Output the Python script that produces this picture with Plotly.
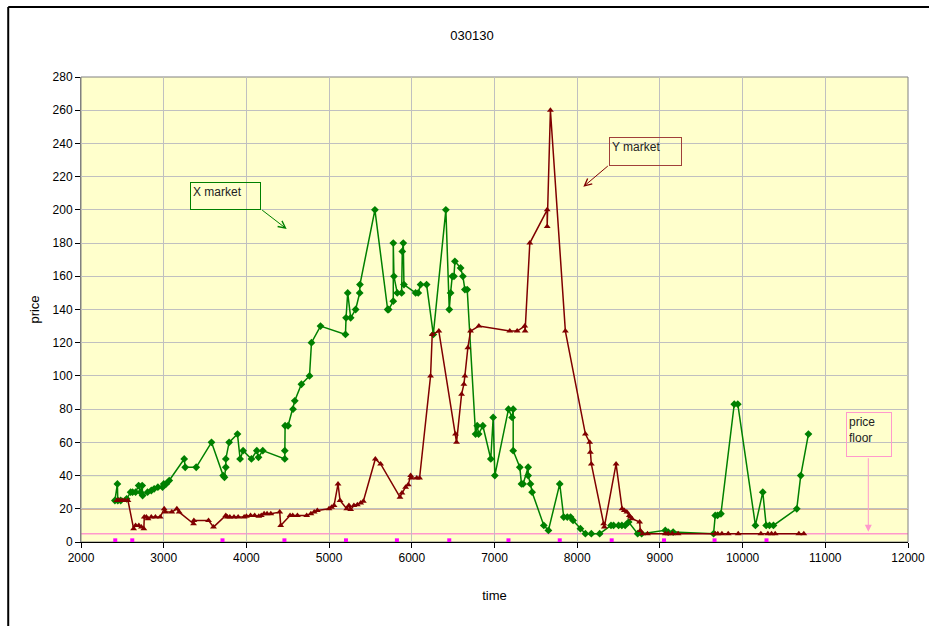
"""
Price of the X and Y markets over time, session 030130.
"""
import plotly.graph_objects as go

# X market (green diamonds)
x_time = [2410, 2440, 2445, 2480, 2552, 2600, 2624, 2660, 2697, 2720, 2740, 2745,
          2805, 2850, 2885, 2930, 2986, 3000, 3030, 3067, 3248, 3260, 3393, 3578,
          3719, 3735, 3751, 3751, 3791, 3892, 3924, 3960, 4061, 4126, 4146, 4198,
          4464, 4464, 4468, 4504, 4564, 4585, 4665, 4763, 4787, 4896, 5198, 5205,
          5225, 5261, 5321, 5370, 5373, 5554, 5708, 5720, 5776, 5776, 5784, 5824,
          5877, 5885, 5897, 5905, 6046, 6078, 6106, 6179, 6260, 6412, 6453, 6469,
          6489, 6510, 6521, 6590, 6618, 6642, 6670, 6771, 6791, 6808, 6859, 6955,
          6984, 7004, 7169, 7213, 7226, 7226, 7306, 7326, 7346, 7407, 7407, 7435,
          7455, 7596, 7652, 7789, 7837, 7880, 7920, 7950, 8039, 8099, 8171, 8272,
          8409, 8440, 8500, 8540, 8580, 8622, 8731, 8779, 9065, 9100, 9160, 9649,
          9669, 9697, 9738, 9899, 9942, 10155, 10244, 10285, 10325, 10373, 10655,
          10703, 10796]
x_price = [25, 35, 25, 25, 26, 30, 30, 30, 34, 30, 34, 28,
           30, 31, 32, 33, 33, 35, 35, 37, 50, 45, 45, 60,
           40, 39, 45, 50, 60, 65, 50, 55, 50, 55, 51, 55,
           50, 55, 70, 70, 80, 85, 95, 100, 120, 130, 125, 135,
           150, 135, 140, 150, 155, 200, 140, 140, 145, 180, 160, 150,
           150, 175, 180, 155, 150, 150, 155, 155, 125, 200, 140, 150,
           160, 160, 169, 165, 160, 152, 152, 65, 70, 65, 70, 50,
           75, 40, 80, 75, 80, 55, 45, 35, 35, 45, 40, 35,
           30, 10, 7, 35, 15, 15, 15, 13, 8, 5, 5, 5,
           10, 10, 10, 10, 10, 12, 5, 5, 7, 6, 6, 5,
           16, 16, 17, 83, 83, 10, 30, 10, 10, 10, 20,
           40, 65]

# Y market (dark red triangles)
y_time = [2435, 2450, 2470, 2500, 2530, 2568, 2636, 2660, 2700, 2730, 2760, 2765,
          2790, 2810, 2850, 2900, 2958, 3006, 3020, 3098, 3159, 3187, 3361, 3365,
          3542, 3602, 3751, 3770, 3800, 3850, 3900, 3973, 4000, 4050, 4100, 4150,
          4180, 4214, 4250, 4295, 4403, 4415, 4528, 4560, 4617, 4729, 4780, 4820,
          4858, 4999, 5030, 5060, 5108, 5132, 5213, 5240, 5261, 5300, 5342, 5382,
          5414, 5559, 5623, 5857, 5881, 5925, 5957, 5986, 5990, 6060, 6094, 6227,
          6247, 6327, 6529, 6541, 6602, 6630, 6642, 6678, 6710, 6811, 7185, 7274,
          7366, 7370, 7427, 7637, 7637, 7676, 7857, 8099, 8151, 8159, 8171, 8320,
          8328, 8470, 8543, 8570, 8600, 8630, 8643, 8663, 8755, 8763, 8791, 8850,
          9065, 9100, 9150, 9220, 9669, 9700, 9750, 9826, 9947, 10221, 10306, 10350,
          10394, 10680, 10740]
y_price = [25, 25, 25, 25, 25, 25, 8, 10, 10, 9, 8, 15,
           15, 14, 15, 15, 15, 20, 18, 18, 20, 18, 11, 13,
           13, 9, 16, 15, 15, 15, 15, 15, 15.5, 16, 16, 15.5,
           16, 17, 17, 17, 18, 10, 16, 16, 16, 16, 17, 18,
           19, 20, 21, 22, 35, 25, 20, 22, 19.5, 22, 22.5, 23.5,
           24.5, 50, 47, 27, 29.5, 33, 34.5, 40, 38.5, 38.5, 38.5, 100,
           125, 127, 65, 60, 89, 95, 100, 117, 127, 130, 127, 127,
           130, 127, 180, 200, 190, 260, 127, 65, 60, 54, 47, 11,
           9, 47, 20, 19, 18, 16, 15, 14, 12, 7, 5, 5,
           5, 5, 5, 5, 5, 5, 5, 5, 5, 5, 5, 5,
           5, 5, 5]

# small magenta markers along the bottom
tick_time = [2414, 2620, 3711, 4460, 5204, 5820, 6453, 7169, 7789, 8417, 9050,
             9661, 10289]
tick_price = [1] * len(tick_time)

x_level = 40
y_level = 20
price_floor = 5

FONT = "Liberation Sans, Arial, sans-serif"

fig = go.Figure()

fig.add_hline(y=x_level, line=dict(color='#008000', width=1), layer='below')
fig.add_hline(y=y_level, line=dict(color='#800000', width=1), layer='below')
fig.add_hline(y=price_floor, line=dict(color='#FF99CC', width=1.5), layer='below')

fig.add_trace(go.Scatter(
    x=x_time, y=x_price, mode='lines+markers', name='X market',
    line=dict(color='#008000', width=1.5),
    marker=dict(symbol='diamond', size=6, color='#008000'),
))
fig.add_trace(go.Scatter(
    x=y_time, y=y_price, mode='lines+markers', name='Y market',
    line=dict(color='#800000', width=1.5),
    marker=dict(symbol='triangle-up', size=6, color='#800000'),
))
fig.add_trace(go.Scatter(
    x=tick_time, y=tick_price, mode='markers', name='trades',
    marker=dict(symbol='square', size=4, color='#FF00FF'),
))

# labelled boxes with arrows
boxes = [
    dict(text='X market', x=3318, y=216.6, w=65, h=22, color='#008000'),
    dict(text='Y market', x=8388, y=243.7, w=67, h=23, color='#A0403A'),
    dict(text='price<br>floor', x=11250, y=78.1, w=40, h=39, color='#FF99CC'),
]
for b in boxes:
    fig.add_annotation(
        x=b['x'], y=b['y'], xanchor='left', yanchor='top', text=b['text'],
        showarrow=False, align='left', valign='top', width=b['w'], height=b['h'],
        bordercolor=b['color'], borderwidth=1, borderpad=2,
        font=dict(family=FONT, size=12, color='#222222'),
    )

arrows = [
    dict(x=4487, y=188.5, ax=-26, ay=-20, color='#008000', head=5),
    dict(x=8074, y=213.9, ax=26, ay=-22, color='#800000', head=5),
    dict(x=11520, y=6.2, ax=0, ay=-75, color='#FF99CC', head=2),
]
for a in arrows:
    fig.add_annotation(
        x=a['x'], y=a['y'], ax=a['ax'], ay=a['ay'], text='', showarrow=True,
        arrowhead=a['head'], arrowsize=1.4, arrowwidth=1, arrowcolor=a['color'],
    )

# outer frame (top and left edges visible)
fig.add_shape(type='line', xref='paper', yref='paper', x0=-0.088, x1=1.1,
              y0=1.1505, y1=1.1505, line=dict(color='black', width=2))
fig.add_shape(type='line', xref='paper', yref='paper', x0=-0.088, x1=-0.088,
              y0=1.1505, y1=-0.2, line=dict(color='black', width=2))
# plot area border
fig.add_shape(type='rect', xref='paper', yref='paper', x0=0, x1=1, y0=0, y1=1,
              line=dict(color='#808080', width=1), layer='below')

fig.update_layout(
    width=929, height=626,
    margin=dict(l=81, r=21, t=77, b=84),
    paper_bgcolor='white',
    plot_bgcolor='#FFFFCC',
    showlegend=False,
    font=dict(family=FONT, size=12, color='black'),
    title=dict(text='030130', xref='container', x=472 / 929, y=1 - 35 / 626,
               xanchor='center', yanchor='middle',
               font=dict(family=FONT, size=13, color='black')),
)
fig.update_xaxes(
    range=[2000, 12000], dtick=1000, tick0=2000, tickformat='d',
    showgrid=True, gridcolor='#C0C0C0', gridwidth=1, zeroline=False,
    showline=True, linecolor='black', linewidth=1, automargin=False,
    ticks='outside', ticklen=5, tickcolor='black',
    title=dict(text='time', standoff=26, font=dict(size=13)),
)
fig.update_yaxes(
    range=[0, 280], dtick=20,
    showgrid=True, gridcolor='#C0C0C0', gridwidth=1, zeroline=False,
    showline=True, linecolor='#808080', linewidth=1, automargin=False,
    ticks='outside', ticklen=5, tickcolor='black',
    title=dict(text='price', standoff=10, font=dict(size=13)),
)

# drop the browser's default body margin so the figure sits at the page corner
fig.write_html("out.html", config={'displayModeBar': False},
               post_script="document.body.style.margin='0';")
